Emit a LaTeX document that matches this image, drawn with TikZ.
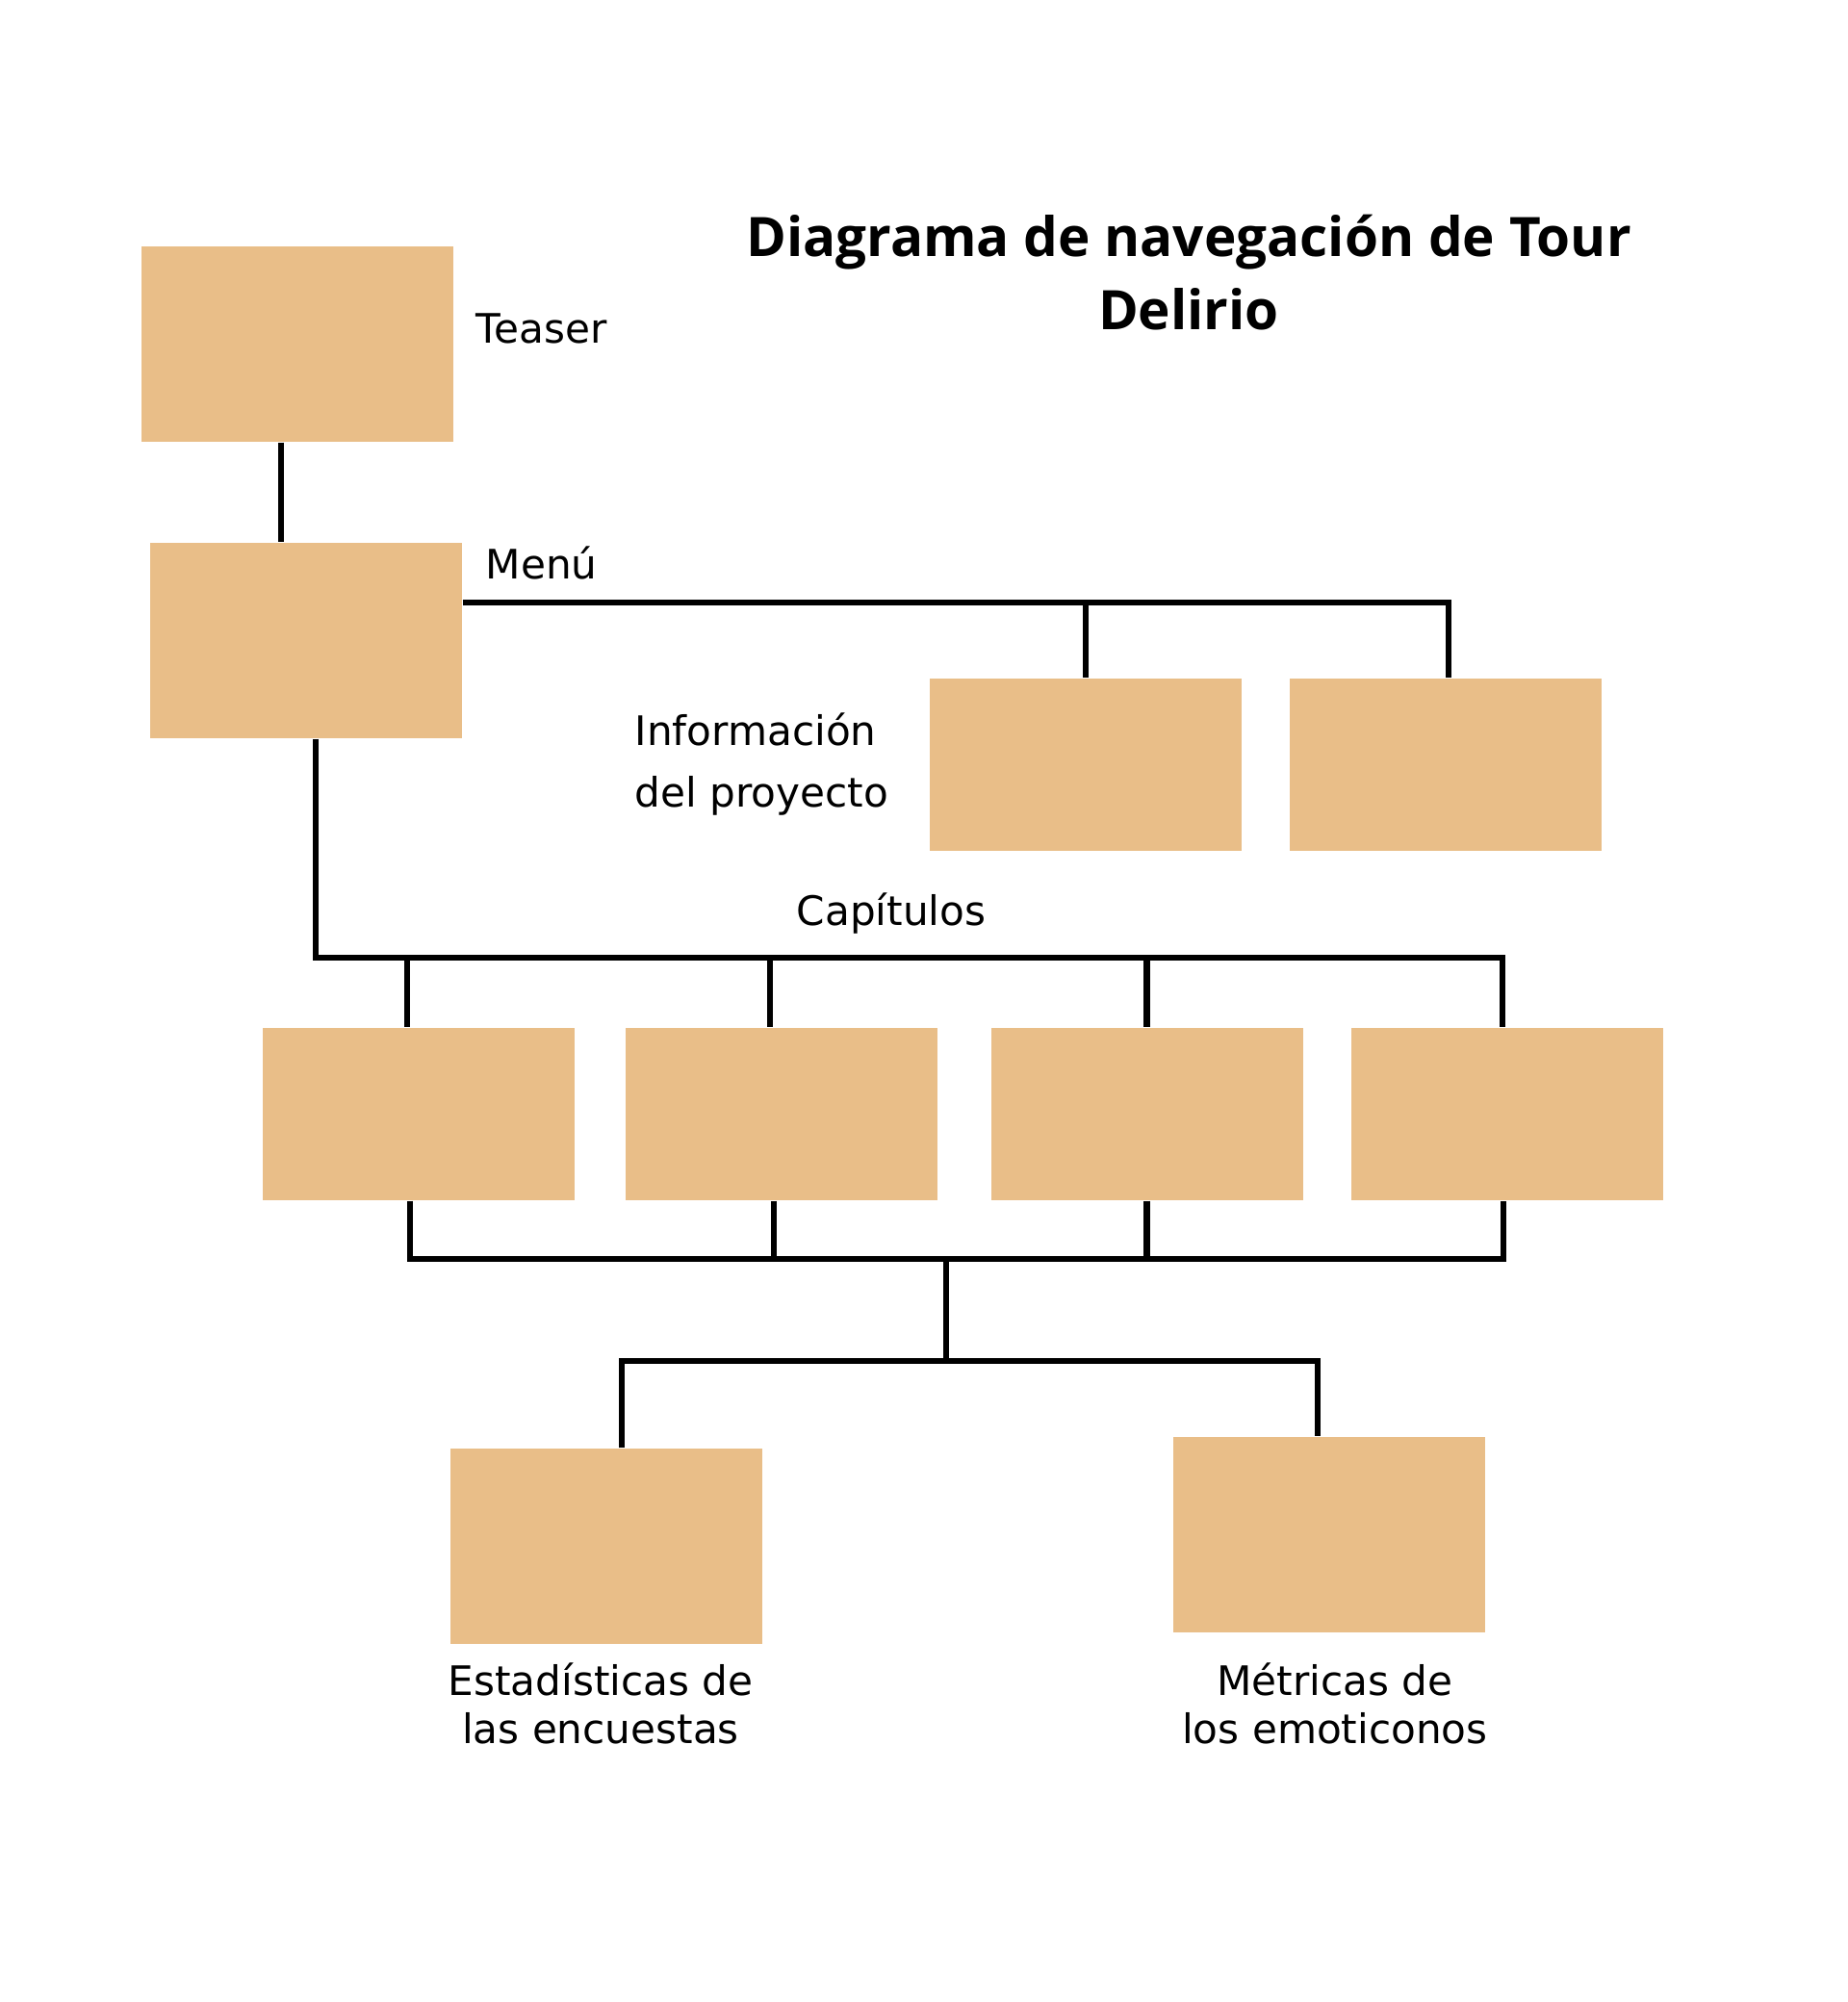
\documentclass[tikz,border=0pt]{standalone}
\usepackage{fontspec}
\setmainfont{DejaVu Sans}
\newfontfamily\titlefont{Open Sans}
\usepackage{tikz}
\usetikzlibrary{positioning}
\definecolor{pagefill}{RGB}{233,190,136}
\tikzset{
    page/.style={
        fill=pagefill,
        minimum width=3.24cm,
        minimum height=2.03cm,
        inner sep=0pt
    },
    shortpage/.style={
        page,
        minimum height=1.79cm
    },
    link/.style={
        line width=1.9pt
    },
    lbl/.style={
        font=\fontsize{12}{18}\selectfont,
        inner sep=0pt
    }
}

\begin{document}
\begin{tikzpicture}

    \useasboundingbox (0,0) rectangle (19.2,-20.8);

    % Titulo
    \node[font=\titlefont\bfseries\fontsize{16.1}{21.5}\selectfont, align=center] (title)
        at (12.35,-2.83) {Diagrama de navegación de Tour\\Delirio};

    % Paginas
    \node[page]      (teaser) at (3.09,-3.575)   {};
    \node[page]      (menu)   at (3.18,-6.655)   {};
    \node[shortpage] (info1)  at (11.28,-7.945)  {};
    \node[shortpage] (info2)  at (15.02,-7.945)  {};
    \node[shortpage] (cap1)   at (4.35,-11.575)  {};
    \node[shortpage] (cap2)   at (8.12,-11.575)  {};
    \node[shortpage] (cap3)   at (11.915,-11.575) {};
    \node[shortpage] (cap4)   at (15.66,-11.575) {};
    \node[page]      (stats)  at (6.30,-16.065)  {};
    \node[page]      (emoti)  at (13.81,-15.945) {};

    % Etiquetas
    \node[lbl, anchor=west] (teaserlbl) at (4.94,-3.41) {Teaser};
    \node[lbl, anchor=west] (menulbl)   at (5.04,-5.85) {Menú};
    \node[lbl, anchor=west, align=left, font=\fontsize{12}{18.2}\selectfont]
        (infolbl) at (6.59,-7.94) {Información\\del proyecto};
    \node[lbl] (caplbl) at (9.26,-9.49) {Capítulos};
    \node[lbl, align=center, font=\fontsize{12}{14}\selectfont]
        (statslbl) at (6.24,-17.70) {Estadísticas de\\las encuestas};
    \node[lbl, align=center, font=\fontsize{12}{14}\selectfont]
        (emotilbl) at (13.87,-17.70) {Métricas de\\los emoticonos};

    % Uniones
    \coordinate (tm)   at (2.92,0);
    \coordinate (mbar) at (0,-6.26);
    \coordinate (cbar) at (3.28,-9.95);
    \coordinate (bbar) at (0,-13.08);
    \coordinate (hub)  at (9.83,-13.08);
    \coordinate (sbar) at (9.83,-14.14);

    % Conexiones
    \draw[link] (teaser.south -| tm) -- (menu.north -| tm);
    \draw[link] (menu.east |- mbar) -- ([xshift=0.03cm]info2.north |- mbar) -- ([xshift=0.03cm]info2.north);
    \draw[link] (info1.north |- mbar) -- (info1.north);

    \draw[link] (menu.south -| cbar) -- (cbar) -- ([xshift=-0.05cm]cap4.north |- cbar) -- ([xshift=-0.05cm]cap4.north);
    \draw[link] ([xshift=-0.12cm]cap1.north |- cbar) -- ([xshift=-0.12cm]cap1.north);
    \draw[link] ([xshift=-0.12cm]cap2.north |- cbar) -- ([xshift=-0.12cm]cap2.north);
    \draw[link] (cap3.north |- cbar) -- (cap3.north);

    \draw[link] ([xshift=-0.09cm]cap1.south) -- ([xshift=-0.09cm]cap1.south |- bbar)
        -- ([xshift=-0.04cm]cap4.south |- bbar) -- ([xshift=-0.04cm]cap4.south);
    \draw[link] ([xshift=-0.08cm]cap2.south) -- ([xshift=-0.08cm]cap2.south |- bbar);
    \draw[link] (cap3.south) -- (cap3.south |- bbar);

    \draw[link] (hub) -- (sbar);
    \draw[link] ([xshift=0.16cm]stats.north) -- ([xshift=0.16cm]stats.north |- sbar)
        -- ([xshift=-0.12cm]emoti.north |- sbar) -- ([xshift=-0.12cm]emoti.north);

\end{tikzpicture}
\end{document}
